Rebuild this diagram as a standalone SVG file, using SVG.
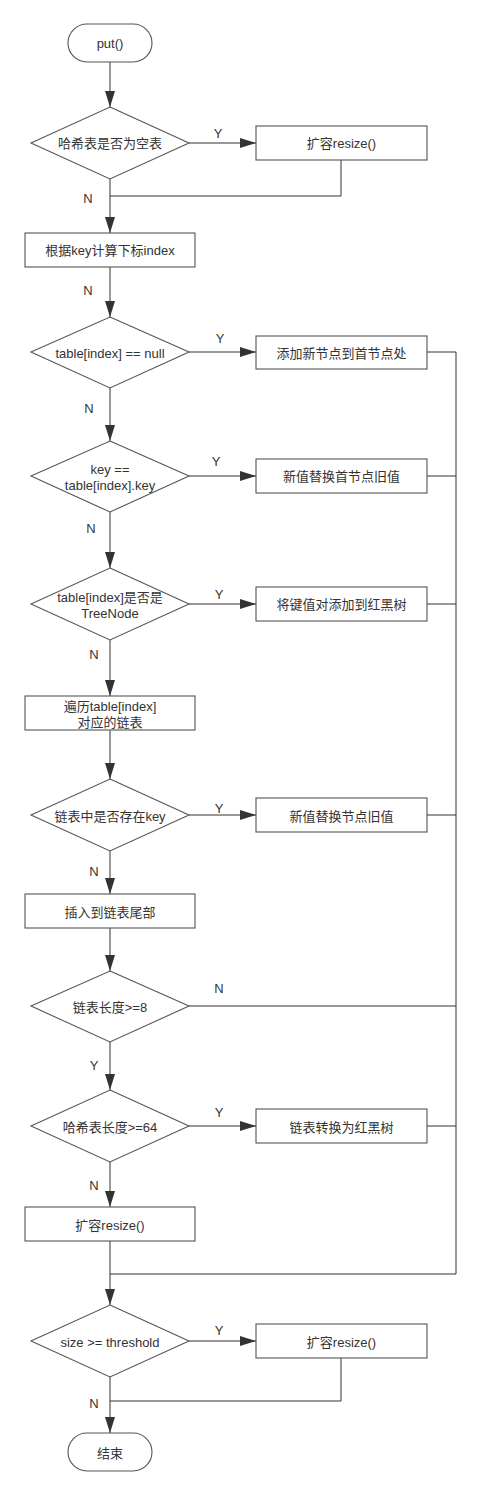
<svg xmlns="http://www.w3.org/2000/svg" width="482" height="1495" viewBox="0 0 482 1495">
<style>
.shape{fill:#fff;stroke:#555;stroke-width:1.1}
.t{font-family:"Liberation Sans","Noto Sans CJK SC",sans-serif;font-size:13px;fill:#333;text-anchor:middle;dominant-baseline:central}
.lbl{font-family:"Liberation Sans","Noto Sans CJK SC",sans-serif;font-size:13px;fill:#333;text-anchor:middle;dominant-baseline:central}
.c{fill:none;stroke:#333;stroke-width:1}
.a{marker-end:url(#arr)}
</style>
<defs>
<marker id="arr" viewBox="0 0 16 10" markerWidth="16" markerHeight="10" refX="16" refY="5" orient="auto" markerUnits="userSpaceOnUse">
<path d="M0,0 L16,5 L0,10 z" fill="#333"/>
</marker>
</defs>
<rect width="482" height="1495" fill="#fff"/>
<g id="connectors">
<path class="c a" d="M110,62 V107"/>
<path class="c a" d="M189,143 H256"/>
<path class="c" d="M341,160 V196 H110"/>
<path class="c a" d="M110,179 V233"/>
<path class="c a" d="M110,267 V317"/>
<path class="c a" d="M189,352 H256"/>
<path class="c a" d="M110,388 V441"/>
<path class="c a" d="M189,476 H256"/>
<path class="c a" d="M110,512 V568"/>
<path class="c a" d="M189,604 H256"/>
<path class="c a" d="M110,640 V696"/>
<path class="c a" d="M110,730 V779"/>
<path class="c a" d="M189,815 H256"/>
<path class="c a" d="M110,851 V894"/>
<path class="c a" d="M110,928 V971"/>
<path class="c" d="M189,1006 H456"/>
<path class="c a" d="M110,1042 V1090"/>
<path class="c a" d="M189,1126 H256"/>
<path class="c a" d="M110,1162 V1207"/>
<path class="c a" d="M110,1241 V1305"/>
<path class="c" d="M427,352 H456 M427,476 H456 M427,604 H456 M427,815 H456 M427,1126 H456"/>
<path class="c" d="M456,352 V1274 H110"/>
<path class="c a" d="M189,1341 H256"/>
<path class="c" d="M341,1358 V1401 H110"/>
<path class="c a" d="M110,1377 V1433"/>
<text class="lbl" x="218" y="133">Y</text>
<text class="lbl" x="88" y="198">N</text>
<text class="lbl" x="88" y="290">N</text>
<text class="lbl" x="220" y="338">Y</text>
<text class="lbl" x="89" y="408">N</text>
<text class="lbl" x="216" y="461">Y</text>
<text class="lbl" x="91" y="528">N</text>
<text class="lbl" x="219" y="594">Y</text>
<text class="lbl" x="94" y="654">N</text>
<text class="lbl" x="219" y="808">Y</text>
<text class="lbl" x="94" y="871">N</text>
<text class="lbl" x="219" y="988">N</text>
<text class="lbl" x="94" y="1065">Y</text>
<text class="lbl" x="219" y="1112">Y</text>
<text class="lbl" x="94" y="1185">N</text>
<text class="lbl" x="219" y="1330">Y</text>
<text class="lbl" x="94" y="1403">N</text>
</g>
<g id="start"><rect class="shape" x="68" y="24" width="84" height="38" rx="19" ry="19"/><text class="t" x="110" y="43">put()</text></g>
<g id="d1"><polygon class="shape" points="110,107 189,143 110,179 31,143"/><text class="t" x="110" y="143">哈希表是否为空表</text></g>
<g id="resize1"><rect class="shape" x="256" y="126" width="171" height="34"/><text class="t" x="341.5" y="143">扩容resize()</text></g>
<g id="index"><rect class="shape" x="25" y="233" width="170" height="34"/><text class="t" x="110" y="250">根据key计算下标index</text></g>
<g id="d2"><polygon class="shape" points="110,317 189,352 110,388 31,352"/><text class="t" x="110" y="353">table[index] == null</text></g>
<g id="addHead"><rect class="shape" x="256" y="336" width="171" height="33"/><text class="t" x="341.5" y="353">添加新节点到首节点处</text></g>
<g id="d3"><polygon class="shape" points="110,441 189,476 110,512 31,476"/><text class="t" x="110" y="469">key ==</text><text class="t" x="110" y="485">table[index].key</text></g>
<g id="replaceHead"><rect class="shape" x="256" y="459" width="171" height="34"/><text class="t" x="341.5" y="476">新值替换首节点旧值</text></g>
<g id="d4"><polygon class="shape" points="110,568 189,604 110,640 31,604"/><text class="t" x="110" y="597">table[index]是否是</text><text class="t" x="110" y="613">TreeNode</text></g>
<g id="treeAdd"><rect class="shape" x="256" y="587" width="171" height="34"/><text class="t" x="341.5" y="604">将键值对添加到红黑树</text></g>
<g id="traverse"><rect class="shape" x="25" y="696" width="170" height="34"/><text class="t" x="110" y="706">遍历table[index]</text><text class="t" x="110" y="722">对应的链表</text></g>
<g id="d5"><polygon class="shape" points="110,779 189,815 110,851 31,815"/><text class="t" x="110" y="816">链表中是否存在key</text></g>
<g id="replaceNode"><rect class="shape" x="256" y="798" width="171" height="34"/><text class="t" x="341.5" y="816">新值替换节点旧值</text></g>
<g id="insertTail"><rect class="shape" x="25" y="894" width="170" height="34"/><text class="t" x="110" y="912">插入到链表尾部</text></g>
<g id="d6"><polygon class="shape" points="110,971 189,1006 110,1042 31,1006"/><text class="t" x="110" y="1007">链表长度&gt;=8</text></g>
<g id="d7"><polygon class="shape" points="110,1090 189,1126 110,1162 31,1126"/><text class="t" x="110" y="1127">哈希表长度&gt;=64</text></g>
<g id="toTree"><rect class="shape" x="256" y="1109" width="171" height="34"/><text class="t" x="341.5" y="1127">链表转换为红黑树</text></g>
<g id="resize2"><rect class="shape" x="25" y="1207" width="170" height="34"/><text class="t" x="110" y="1225">扩容resize()</text></g>
<g id="d8"><polygon class="shape" points="110,1305 189,1341 110,1377 31,1341"/><text class="t" x="110" y="1342">size &gt;= threshold</text></g>
<g id="resize3"><rect class="shape" x="256" y="1324" width="171" height="34"/><text class="t" x="341.5" y="1342">扩容resize()</text></g>
<g id="end"><rect class="shape" x="68" y="1433" width="84" height="38" rx="19" ry="19"/><text class="t" x="110" y="1453">结束</text></g>
</svg>
